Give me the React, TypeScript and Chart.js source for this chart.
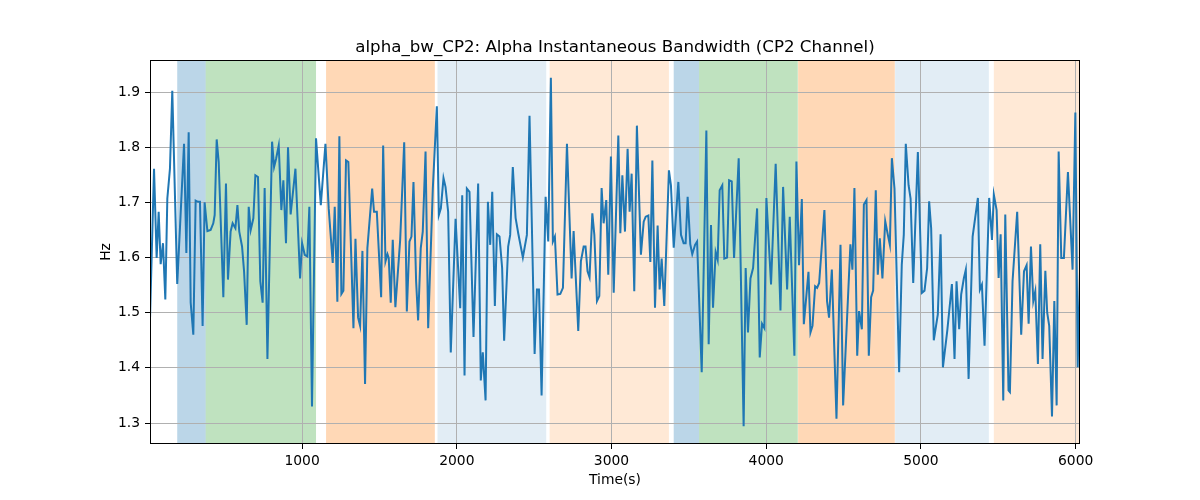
import { useEffect, useRef } from 'react';
import { Chart, registerables } from 'chart.js';

Chart.register(...registerables);

const FONT = "'DejaVu Sans', 'Liberation Sans', sans-serif";

const TITLE = 'alpha_bw_CP2: Alpha Instantaneous Bandwidth (CP2 Channel)';
const X_LABEL = 'Time(s)';
const Y_LABEL = 'Hz';

const xTicks = [1000, 2000, 3000, 4000, 5000, 6000];
const yTicks = [1.3, 1.4, 1.5, 1.6, 1.7, 1.8, 1.9];

const times = [
  17, 43, 60, 73, 86, 101, 116, 129, 146, 161, 193, 237, 252, 267, 280, 297, 312, 327, 340, 357, 370, 388, 409, 426, 435, 448, 461, 491, 508,
  521, 538, 551, 569, 582, 594, 612, 625, 642, 655, 668, 685, 698, 715, 730, 745, 758, 776, 806, 819, 832, 849, 866, 879, 896, 909, 926, 957, 987, 1000,
  1017, 1034, 1047, 1064, 1090, 1121, 1151, 1172, 1198, 1211, 1228, 1241, 1254, 1267, 1284, 1299, 1332, 1345, 1362, 1375, 1390, 1407, 1422, 1453, 1465, 1483, 1511, 1524,
  1539, 1552, 1560, 1573, 1586, 1603, 1634, 1660, 1677, 1694, 1707, 1720, 1737, 1750, 1767, 1780, 1798, 1815, 1845, 1871, 1884, 1897, 1914, 1927, 1944, 1961, 1992, 2022,
  2035, 2050, 2065, 2082, 2108, 2138, 2155, 2168, 2186, 2201, 2216, 2229, 2246, 2259, 2276, 2293, 2306, 2332, 2345, 2362, 2380, 2397, 2427, 2453, 2470, 2503, 2518, 2531,
  2548, 2574, 2591, 2608, 2621, 2634, 2651, 2669, 2686, 2712, 2742, 2755, 2785, 2802, 2820, 2832, 2845, 2858, 2876, 2889, 2906, 2921, 2936, 2949, 2966, 2979, 2996, 3014,
  3044, 3057, 3070, 3087, 3104, 3117, 3130, 3147, 3164, 3190, 3208, 3221, 3238, 3251, 3264, 3281, 3298, 3311, 3324, 3341, 3371, 3384, 3402, 3432, 3449, 3466, 3479, 3492, 3509, 3522, 3540,
  3553, 3583, 3613, 3628, 3643, 3656, 3673, 3686, 3699, 3716, 3729, 3747, 3760, 3777, 3792, 3822, 3854, 3867, 3882, 3898, 3915, 3941, 3958, 3973, 3988, 4001, 4031,
  4061, 4092, 4109, 4135, 4152, 4182, 4195, 4212, 4230, 4243, 4273, 4286, 4299, 4316, 4329, 4342, 4376, 4393, 4406, 4424, 4454, 4480, 4497, 4544,
  4557, 4570, 4588, 4600, 4618, 4631, 4648, 4663, 4678, 4691, 4708, 4721, 4734, 4751, 4769, 4786, 4799, 4812, 4829, 4859, 4876, 4889, 4902, 4920, 4933, 4950, 4980, 5006, 5023, 5040, 5053,
  5066, 5083, 5109, 5127, 5142, 5170, 5200, 5217, 5230, 5247, 5260, 5277, 5290, 5308, 5334, 5368, 5381, 5394, 5411, 5441, 5459, 5471, 5489, 5502, 5515, 5532, 5545,
  5566, 5575, 5592, 5622, 5648, 5666, 5683, 5696, 5711, 5726, 5739, 5756, 5771, 5786, 5804, 5816, 5829, 5847, 5862, 5877, 5890, 5907, 5924, 5950, 5980, 5998, 6013, 6028,
];

const values = [
  1.488, 1.761, 1.599, 1.683, 1.588, 1.626, 1.524, 1.707, 1.761, 1.902, 1.552, 1.806, 1.608, 1.827, 1.518, 1.460, 1.703, 1.701, 1.701, 1.476, 1.700, 1.648, 1.650, 1.662, 1.677, 1.814, 1.773, 1.528, 1.734,
  1.560, 1.647, 1.662, 1.653, 1.695, 1.647, 1.620, 1.575, 1.478, 1.692, 1.650, 1.671, 1.749, 1.746, 1.557, 1.518, 1.726, 1.416, 1.810, 1.764, 1.779, 1.803, 1.686, 1.740, 1.626, 1.800, 1.678, 1.761, 1.562, 1.626,
  1.605, 1.602, 1.692, 1.330, 1.816, 1.695, 1.806, 1.689, 1.590, 1.692, 1.520, 1.820, 1.534, 1.540, 1.776, 1.773, 1.472, 1.634, 1.491, 1.476, 1.612, 1.371, 1.617, 1.725, 1.683, 1.683, 1.528, 1.803,
  1.593, 1.606, 1.599, 1.518, 1.632, 1.510, 1.632, 1.809, 1.502, 1.629, 1.638, 1.737, 1.557, 1.486, 1.617, 1.647, 1.792, 1.472, 1.725, 1.874, 1.677, 1.689, 1.744, 1.728, 1.683, 1.428, 1.670, 1.508,
  1.713, 1.386, 1.725, 1.719, 1.456, 1.734, 1.377, 1.428, 1.341, 1.701, 1.623, 1.719, 1.512, 1.642, 1.638, 1.581, 1.449, 1.620, 1.641, 1.764, 1.672, 1.644, 1.600, 1.641, 1.857, 1.425, 1.542, 1.542,
  1.350, 1.710, 1.629, 1.926, 1.629, 1.638, 1.533, 1.534, 1.545, 1.806, 1.562, 1.648, 1.467, 1.593, 1.620, 1.620, 1.575, 1.564, 1.680, 1.641, 1.521, 1.530, 1.726, 1.662, 1.704, 1.569, 1.783, 1.536,
  1.821, 1.644, 1.749, 1.647, 1.797, 1.683, 1.752, 1.539, 1.839, 1.605, 1.665, 1.674, 1.676, 1.592, 1.776, 1.509, 1.658, 1.542, 1.598, 1.512, 1.758, 1.731, 1.618, 1.737, 1.641, 1.626, 1.626, 1.710, 1.624, 1.606, 1.623,
  1.629, 1.392, 1.830, 1.443, 1.659, 1.509, 1.610, 1.596, 1.722, 1.731, 1.598, 1.600, 1.740, 1.738, 1.599, 1.780, 1.294, 1.581, 1.464, 1.562, 1.581, 1.689, 1.419, 1.480, 1.472, 1.708, 1.551,
  1.770, 1.504, 1.728, 1.542, 1.674, 1.422, 1.774, 1.586, 1.706, 1.479, 1.574, 1.464, 1.476, 1.548, 1.545, 1.554, 1.686, 1.521, 1.491, 1.578, 1.308, 1.623, 1.332, 1.624,
  1.578, 1.726, 1.422, 1.503, 1.470, 1.696, 1.704, 1.422, 1.528, 1.540, 1.722, 1.569, 1.635, 1.562, 1.666, 1.641, 1.623, 1.780, 1.725, 1.392, 1.587, 1.641, 1.806, 1.731, 1.707, 1.554, 1.791, 1.536, 1.540, 1.581, 1.702,
  1.653, 1.450, 1.497, 1.642, 1.401, 1.467, 1.552, 1.416, 1.557, 1.470, 1.533, 1.562, 1.578, 1.380, 1.638, 1.708, 1.542, 1.551, 1.440, 1.708, 1.632, 1.714, 1.686, 1.563, 1.642, 1.341, 1.678,
  1.359, 1.356, 1.557, 1.683, 1.460, 1.575, 1.586, 1.480, 1.620, 1.521, 1.539, 1.407, 1.624, 1.416, 1.576, 1.500, 1.476, 1.312, 1.521, 1.332, 1.792, 1.599, 1.599, 1.755, 1.578, 1.863, 1.401, 1.574,
];

const bandStart = [193, 377, 1155, 1875, 2600, 3402, 3566, 4206, 4833, 5471];
const bandEnd = [377, 1090, 1858, 2578, 3371, 3566, 4204, 4831, 5439, 6040];
const bandColor = [
  'rgba(31,119,180,0.3)',
  'rgba(44,160,44,0.3)',
  'rgba(255,127,14,0.3)',
  'rgba(31,119,180,0.13)',
  'rgba(255,127,14,0.17)',
  'rgba(31,119,180,0.3)',
  'rgba(44,160,44,0.3)',
  'rgba(255,127,14,0.3)',
  'rgba(31,119,180,0.13)',
  'rgba(255,127,14,0.17)',
];

const X_MIN = 17;
const X_MAX = 6028;
const Y_MIN = 1.262;
const Y_MAX = 1.958;

const bandsPlugin = {
  id: 'bands',
  beforeDraw(chart: any) {
    const { ctx, chartArea: a, scales } = chart;
    const xs = scales.x;
    ctx.save();
    ctx.beginPath();
    ctx.rect(a.left, a.top, a.right - a.left, a.bottom - a.top);
    ctx.clip();
    for (let i = 0; i < bandStart.length; i++) {
      const x0 = xs.getPixelForValue(bandStart[i]);
      const x1 = xs.getPixelForValue(bandEnd[i]);
      ctx.fillStyle = bandColor[i];
      ctx.fillRect(x0, a.top, x1 - x0, a.bottom - a.top);
    }
    ctx.restore();
  },
};

const framePlugin = {
  id: 'frame',
  afterDraw(chart: any) {
    const { ctx, chartArea: a } = chart;
    ctx.save();
    ctx.strokeStyle = '#000';
    ctx.lineWidth = 1;
    ctx.strokeRect(a.left + 0.5, a.top + 0.5, a.right - a.left - 1, a.bottom - a.top - 1);
    ctx.fillStyle = '#000';
    ctx.textAlign = 'center';
    ctx.font = `16.67px ${FONT}`;
    ctx.textBaseline = 'alphabetic';
    const cx = (a.left + a.right) / 2;
    ctx.fillText(TITLE, cx, a.top - 8);
    ctx.font = `13.89px ${FONT}`;
    ctx.textBaseline = 'top';
    ctx.fillText(X_LABEL, cx, a.bottom + 29);
    ctx.translate(a.left - 44, (a.top + a.bottom) / 2);
    ctx.rotate(-Math.PI / 2);
    ctx.textBaseline = 'middle';
    ctx.fillText(Y_LABEL, 0, 0);
    ctx.restore();
  },
};

export default function App() {
  const ref = useRef<HTMLCanvasElement>(null);

  useEffect(() => {
    if (!ref.current) return;
    const points = times.map((t, i) => ({ x: t, y: values[i] }));
    const chart = new Chart(ref.current, {
      type: 'line',
      data: {
        datasets: [
          {
            data: points,
            borderColor: '#1f77b4',
            borderWidth: 2,
            pointRadius: 0,
            tension: 0,
            fill: false,
          },
        ],
      },
      options: {
        animation: false,
        responsive: false,
        devicePixelRatio: 1,
        layout: { padding: { left: 0, right: 120, top: 60, bottom: 0 } },
        plugins: {
          legend: { display: false },
          tooltip: { enabled: false },
          title: { display: false },
        },
        scales: {
          x: {
            type: 'linear',
            min: X_MIN,
            max: X_MAX,
            afterBuildTicks: (s: any) => {
              s.ticks = xTicks.map((v) => ({ value: v }));
            },
            afterFit: (s: any) => {
              s.height = 56;
            },
            ticks: {
              color: '#000',
              font: { family: FONT, size: 13.89 },
              padding: 4,
              maxRotation: 0,
              autoSkip: false,
              callback: (v: any) => String(v),
            },
            grid: { color: '#b0b0b0', lineWidth: 1, tickColor: '#000', tickLength: 5 },
            border: { display: false },
          },
          y: {
            type: 'linear',
            min: Y_MIN,
            max: Y_MAX,
            afterBuildTicks: (s: any) => {
              s.ticks = yTicks.map((v) => ({ value: v }));
            },
            afterFit: (s: any) => {
              s.width = 150;
            },
            ticks: {
              color: '#000',
              font: { family: FONT, size: 13.89 },
              padding: 5,
              autoSkip: false,
              callback: (v: any) => Number(v).toFixed(1),
            },
            grid: { color: '#b0b0b0', lineWidth: 1, tickColor: '#000', tickLength: 5 },
            border: { display: false },
          },
        },
      },
      plugins: [bandsPlugin, framePlugin],
    });
    return () => chart.destroy();
  }, []);

  return (
    <div style={{ position: 'absolute', left: 0, top: 0, width: 1200, height: 500, background: '#fff' }}>
      <canvas ref={ref} width={1200} height={500} />
    </div>
  );
}
